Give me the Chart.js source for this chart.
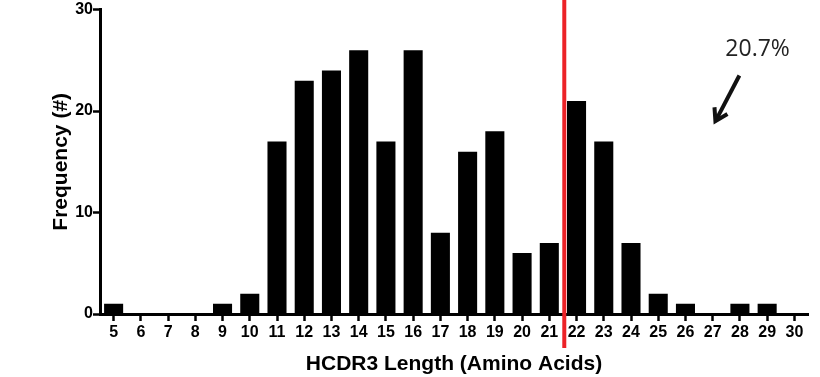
<!DOCTYPE html>
<html>
<head>
<meta charset="utf-8">
<script src="https://cdn.jsdelivr.net/npm/chart.js@4"></script>
<style>
  html, body { margin: 0; padding: 0; background: #fff; }
  #wrap { width: 820px; height: 377px; }
</style>
</head>
<body>
<div id="wrap"><canvas id="chart" width="820" height="377"></canvas></div>
<script>
// HCDR3 length distribution
const lengths = ['5','6','7','8','9','10','11','12','13','14','15','16','17','18','19','20','21','22','23','24','25','26','27','28','29','30'];
const frequency = [1,0,0,0,1,2,17,23,24,26,17,26,8,16,18,6,7,21,17,7,2,1,0,1,1,0];
const yTicks = [0, 10, 20, 30];
const cutoffIndex = 16.55;         // red line, between 21 and 22
const noteText = '20.7%';
const noteAt = [23.65, 26.1];      // [category index, frequency]
const arrowFrom = [22.98, 23.5];
const arrowTo = [22.1, 19.0];

const FONT = '"Liberation Sans", Arial, sans-serif';

const extras = {
  id: 'extras',
  afterDatasetsDraw(chart) {
    const ctx = chart.ctx;
    const x = chart.scales.x, y = chart.scales.y;
    // red cutoff line
    const rx = x.getPixelForValue(cutoffIndex);
    ctx.save();
    ctx.strokeStyle = '#ec2227';
    ctx.lineWidth = 4;
    ctx.beginPath();
    ctx.moveTo(rx, 0);
    ctx.lineTo(rx, chart.chartArea.bottom + 34);
    ctx.stroke();

    // annotation text
    ctx.fillStyle = '#222';
    ctx.font = '23px "Open Sans", sans-serif';
    ctx.textAlign = 'center';
    ctx.textBaseline = 'middle';
    ctx.fillText(noteText, x.getPixelForValue(noteAt[0]), y.getPixelForValue(noteAt[1]));

    // arrow
    const x1 = x.getPixelForValue(arrowFrom[0]), y1 = y.getPixelForValue(arrowFrom[1]);
    const x2 = x.getPixelForValue(arrowTo[0]), y2 = y.getPixelForValue(arrowTo[1]);
    const ang = Math.atan2(y2 - y1, x2 - x1);
    ctx.strokeStyle = '#111';
    ctx.lineWidth = 4;
    ctx.lineCap = 'butt';
    ctx.beginPath();
    ctx.moveTo(x1, y1);
    ctx.lineTo(x2 - 3 * Math.cos(ang), y2 - 3 * Math.sin(ang));
    ctx.stroke();
    ctx.lineJoin = 'miter';
    ctx.beginPath();
    const hl = 14;
    ctx.moveTo(x2 - hl * Math.cos(ang - 0.55), y2 - hl * Math.sin(ang - 0.55));
    ctx.lineTo(x2, y2);
    ctx.lineTo(x2 - hl * Math.cos(ang + 0.55), y2 - hl * Math.sin(ang + 0.55));
    ctx.stroke();
    ctx.restore();
  }
};

const ctx = document.getElementById('chart').getContext('2d');
new Chart(ctx, {
  type: 'bar',
  data: {
    labels: lengths,
    datasets: [{
      data: frequency,
      backgroundColor: '#000',
      borderWidth: 0,
      categoryPercentage: 1,
      barPercentage: 0.7
    }]
  },
  options: {
    responsive: false,
    animation: false,
    layout: { padding: { top: 8, right: 12, left: 0, bottom: 0 } },
    plugins: { legend: { display: false }, tooltip: { enabled: false } },
    scales: {
      x: {
        afterFit(s) { s.height = 63; },
        grid: { drawOnChartArea: false, drawTicks: true, tickLength: 7, tickWidth: 2.5, color: '#000', offset: false },
        border: { color: '#000', width: 3 },
        ticks: { color: '#000', font: { family: FONT, size: 16, weight: 'bold' }, padding: 2, maxRotation: 0, autoSkip: false },
        title: { display: true, text: 'HCDR3 Length (Amino Acids)', color: '#000',
                 font: { family: FONT, size: 21, weight: 'bold' }, padding: { top: 1, bottom: 0 } }
      },
      y: {
        min: 0, max: 30,
        afterFit(s) { s.width = 100; },
        afterBuildTicks(s) { s.ticks = yTicks.map(v => ({ value: v })); },
        grid: { drawOnChartArea: false, drawTicks: true, tickLength: 7, tickWidth: 2.5, color: '#000' },
        border: { color: '#000', width: 3 },
        ticks: { color: '#000', font: { family: FONT, size: 16, weight: 'bold' }, padding: 0 },
        title: { display: true, text: 'Frequency (#)', color: '#000',
                 font: { family: FONT, size: 21, weight: 'bold' }, padding: { top: 49, bottom: 0 } }
      }
    }
  },
  plugins: [extras]
});
</script>
</body>
</html>
